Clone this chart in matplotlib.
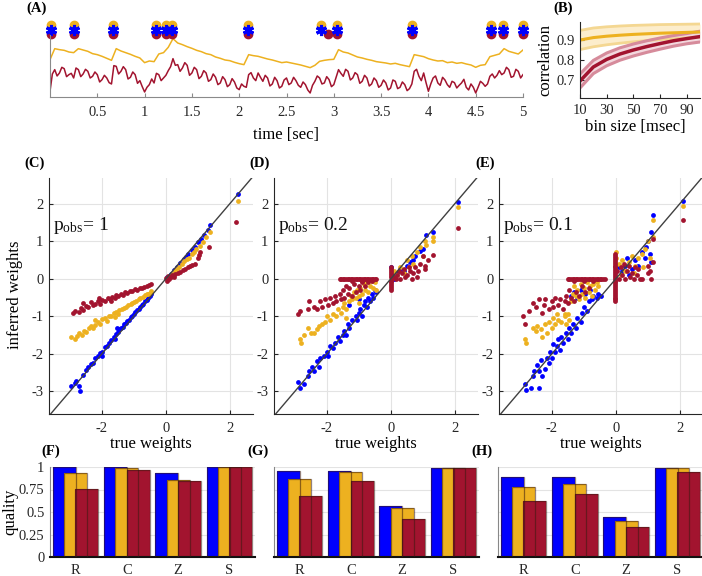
import numpy as np
import matplotlib
matplotlib.use("Agg")
import matplotlib.pyplot as plt

plt.rcParams["font.family"] = ["Liberation Serif", "DejaVu Serif"]
plt.rcParams["mathtext.fontset"] = "custom"
plt.rcParams["mathtext.rm"] = "Liberation Serif"
plt.rcParams["mathtext.it"] = "Liberation Serif:italic"
plt.rcParams["axes.unicode_minus"] = False

BLUE = "#0000ff"
YELLOW = "#edb120"
RED = "#a2142f"
AXC = "#262626"
GRID = "#e3e3e3"

# ---- (A) traces (arbitrary units); yellow every 0.05 s, red every 0.025 s
trace_yellow = [
    113, 146, 143, 141, 136, 134, 146, 142, 138, 131, 128, 123, 117, 111, 146, 139, 134, 129, 123, 118,
    104, 109, 107, 130, 134, 150, 176, 163, 158, 152, 147, 141, 137, 131, 128, 121, 117, 112, 110, 105,
    101, 98, 128, 125, 123, 119, 115, 112, 108, 104, 106, 103, 100, 97, 93, 89, 96, 108, 111, 113,
    114, 143, 136, 133, 127, 121, 118, 114, 111, 107, 105, 103, 100, 102, 98, 95, 92, 128, 125, 122,
    116, 112, 109, 110, 104, 106, 102, 104, 100, 97, 90, 96, 98, 122, 126, 130, 146, 138, 134, 130, 142,
]
trace_red = [
    18, 70, 83, 64, 73, 90, 86, 62, 68, 72, 58, 88, 83, 62, 70, 84, 78, 58, 63, 76,
    68, 46, 53, 66, 58, 44, 40, 95, 93, 70, 78, 92, 83, 55, 60, 76, 68, 42, 50, 32,
    16, 30, 38, 55, 43, 72, 68, 50, 58, 66, 80, 92, 116, 96, 98, 78, 88, 104, 96, 66,
    73, 90, 83, 56, 63, 80, 73, 48, 53, 70, 60, 38, 43, 62, 53, 32, 38, 56, 46, 28,
    23, 40, 33, 30, 68, 74, 58, 50, 73, 60, 48, 66, 58, 34, 40, 60, 50, 28, 33, 52,
    58, 38, 43, 60, 50, 36, 30, 46, 38, 22, 13, 36, 48, 64, 58, 40, 43, 62, 53, 32,
    38, 60, 83, 72, 63, 84, 78, 52, 58, 74, 68, 42, 48, 66, 58, 34, 40, 58, 50, 30,
    36, 52, 43, 22, 28, 52, 48, 26, 30, 46, 38, 20, 26, 40, 78, 84, 63, 50, 73, 44,
    18, 40, 58, 64, 43, 36, 60, 52, 38, 30, 48, 44, 28, 36, 43, 54, 30, 22, 40, 30,
    13, 30, 48, 42, 33, 40, 63, 70, 58, 66, 80, 68, 73, 90, 83, 60, 63, 84, 78, 58,
    68,
]
events_yellow = [0.01, 0.25, 0.67, 1.12, 1.23, 1.29, 2.09, 2.86, 3.03, 3.83, 4.66, 4.79, 5.0]
events_blue = [0.01, 0.25, 0.67, 1.12, 1.23, 1.29, 2.09, 2.86, 3.03, 3.83, 4.66, 4.79, 5.0]
events_red = [0.01, 0.25, 0.67, 1.12, 1.23, 1.29, 2.09, 2.94, 3.03, 3.83, 4.66, 4.79, 5.0]

# ---- (B) correlation vs bin size
bin_size = [10, 20, 30, 40, 50, 60, 70, 80, 90, 100]
corr_yellow = [0.900, 0.912, 0.919, 0.924, 0.928, 0.931, 0.934, 0.936, 0.938, 0.940]
corr_yellow_hi = [0.948, 0.960, 0.966, 0.970, 0.973, 0.975, 0.977, 0.978, 0.979, 0.980]
corr_yellow_lo = [0.852, 0.866, 0.876, 0.884, 0.891, 0.897, 0.902, 0.906, 0.911, 0.915]
corr_red = [0.695, 0.765, 0.803, 0.830, 0.850, 0.867, 0.882, 0.896, 0.907, 0.917]
corr_red_hi = [0.730, 0.798, 0.835, 0.861, 0.880, 0.896, 0.910, 0.922, 0.932, 0.944]
corr_red_lo = [0.660, 0.732, 0.771, 0.799, 0.820, 0.838, 0.854, 0.869, 0.881, 0.890]

# ---- (C) p_obs = 1 : (true, inferred)
c_blue = [(-2.95, -2.85), (-2.85, -2.78), (-2.8, -2.72), (-2.72, -2.85), (-2.68, -3.0), (-2.6, -2.55),
          (-2.5, -2.42), (-2.42, -2.35), (-2.35, -2.28), (-2.28, -2.25), (-2.2, -2.12), (-2.12, -2.05),
          (-2.05, -1.98), (-1.98, -1.95), (-1.9, -1.82), (-1.85, -1.78), (-1.78, -1.7), (-1.7, -1.62),
          (-1.62, -1.55), (-1.55, -1.48), (-1.5, -1.42), (-1.45, -1.35), (-1.4, -1.32), (-1.35, -1.28),
          (-1.3, -1.2), (-1.25, -1.18), (-1.2, -1.12), (-1.15, -1.1), (-1.1, -1.02), (-1.05, -0.98),
          (-1.0, -0.94), (-0.95, -0.88), (-0.9, -0.84), (-0.85, -0.8), (-0.8, -0.76), (-0.75, -0.7),
          (-0.7, -0.66), (-0.65, -0.6), (-0.6, -0.56), (-0.55, -0.5), (-0.5, -0.46), (-0.45, -0.42),
          (-1.52, -1.32), (-1.6, -1.6), (-2.0, -2.05), (0.05, 0.05), (0.15, 0.13), (0.25, 0.22),
          (0.35, 0.32), (0.45, 0.42), (0.55, 0.52), (0.62, 0.58), (0.7, 0.66), (0.8, 0.76), (0.9, 0.85),
          (1.0, 0.98), (1.1, 1.05), (1.2, 1.15), (1.3, 1.3), (1.38, 1.42), (2.25, 2.25)]
c_yellow = [(-2.95, -1.55), (-2.85, -1.6), (-2.78, -1.52), (-2.7, -1.45), (-2.62, -1.5), (-2.55, -1.38),
            (-2.48, -1.42), (-2.4, -1.32), (-2.35, -1.25), (-2.28, -1.3), (-2.2, -1.22), (-2.12, -1.15),
            (-2.05, -1.2), (-1.98, -1.08), (-1.9, -1.05), (-1.85, -1.12), (-1.78, -0.98), (-1.7, -1.0),
            (-1.62, -0.92), (-1.55, -0.88), (-1.5, -0.95), (-1.45, -0.84), (-1.38, -0.8), (-1.3, -0.78),
            (-1.25, -0.74), (-1.18, -0.7), (-1.1, -0.68), (-1.05, -0.64), (-1.0, -0.62), (-0.92, -0.58),
            (-0.85, -0.55), (-0.8, -0.52), (-0.72, -0.48), (-0.65, -0.44), (-0.6, -0.42), (-0.55, -0.4),
            (-0.5, -0.37), (-0.45, -0.34), (-2.2, -1.1), (-1.6, -1.02), (0.05, 0.02), (0.12, 0.06),
            (0.2, 0.12), (0.28, 0.2), (0.35, 0.26), (0.42, 0.32), (0.5, 0.4), (0.58, 0.46), (0.65, 0.52),
            (0.72, 0.56), (0.8, 0.65), (0.88, 0.72), (0.95, 0.8), (1.05, 0.88), (1.15, 0.98), (1.25, 1.1),
            (1.38, 1.25), (2.25, 2.08)]
c_red = [(-2.9, -0.9), (-2.85, -0.85), (-2.72, -0.88), (-2.65, -0.78), (-2.58, -0.82), (-2.5, -0.72),
         (-2.42, -0.76), (-2.35, -0.62), (-2.28, -0.7), (-2.2, -0.66), (-2.12, -0.6), (-2.05, -0.68),
         (-1.98, -0.56), (-1.9, -0.6), (-1.82, -0.52), (-1.75, -0.55), (-1.68, -0.48), (-1.6, -0.52),
         (-1.55, -0.44), (-1.48, -0.47), (-1.4, -0.4), (-1.35, -0.43), (-1.28, -0.36), (-1.2, -0.38),
         (-1.12, -0.32), (-1.05, -0.34), (-0.98, -0.28), (-0.9, -0.3), (-0.82, -0.24), (-0.75, -0.26),
         (-0.68, -0.22), (-0.6, -0.2), (-0.52, -0.17), (-0.45, -0.15), (-2.6, -0.65), (-2.1, -0.5),
         (-1.7, -0.6), (0.0, 0.02), (0.02, -0.05), (0.06, 0.08), (0.1, 0.0), (0.15, 0.05), (0.2, 0.1),
         (0.25, 0.04), (0.3, 0.12), (0.38, 0.15), (0.45, 0.18), (0.52, 0.22), (0.6, 0.25), (0.68, 0.3),
         (0.75, 0.33), (0.82, 0.37), (0.9, 0.4), (1.0, 0.55), (1.02, 0.62), (1.08, 0.7), (1.35, 0.85),
         (2.2, 1.52)]

# ---- (D) p_obs = 0.2
d_blue = [(-2.9, -2.75), (-2.85, -2.9), (-2.7, -2.8), (-2.6, -2.6), (-2.55, -2.45), (-2.45, -2.35),
          (-2.4, -2.45), (-2.3, -2.2), (-2.25, -2.35), (-2.2, -2.1), (-2.1, -2.05), (-2.0, -1.95),
          (-1.95, -2.05), (-1.9, -1.8), (-1.8, -1.85), (-1.75, -1.7), (-1.65, -1.55), (-1.6, -1.65),
          (-1.5, -1.5), (-1.45, -1.4), (-1.4, -1.5), (-1.35, -1.2), (-1.3, -1.3), (-1.2, -1.1),
          (-1.1, -1.0), (-1.05, -1.1), (-1.0, -0.9), (-0.95, -0.8), (-0.9, -1.0), (-0.85, -0.7),
          (-0.8, -0.6), (-0.75, -0.75), (-0.7, -0.5), (-0.65, -0.6), (-0.6, -0.4), (-0.55, -0.5),
          (-0.5, -0.3), (-0.45, -0.35), (-1.3, -0.7), (-1.0, -0.55), (0.0, 0.3), (0.05, 0.1),
          (0.1, 0.0), (0.2, 0.15), (0.3, 0.25), (0.4, 0.2), (0.5, 0.35), (0.6, 0.45), (0.7, 0.5),
          (0.75, 0.6), (0.9, 0.75), (1.0, 0.8), (1.1, 1.15), (1.3, 1.25), (2.1, 2.05)]
d_yellow = [(-2.85, -1.6), (-2.8, -1.7), (-2.7, -1.5), (-2.6, -1.3), (-2.5, -1.45), (-2.4, -1.45),
            (-2.3, -1.35), (-2.25, -1.25), (-2.15, -1.2), (-2.05, -1.15), (-2.0, -1.0), (-1.9, -1.1),
            (-1.8, -0.95), (-1.7, -1.0), (-1.65, -0.8), (-1.55, -0.9), (-1.5, -0.75), (-1.45, -0.65),
            (-1.4, -0.8), (-1.3, -0.6), (-1.25, -0.45), (-1.2, -0.55), (-1.15, -0.35), (-1.1, -0.5),
            (-1.05, -0.3), (-1.0, -0.45), (-0.95, -0.25), (-0.9, -0.4), (-0.85, -0.15), (-0.8, -0.3),
            (-0.75, -0.1), (-0.7, -0.35), (-0.65, -0.2), (-0.6, -0.05), (-0.55, -0.25), (-0.5, -0.1),
            (-0.45, -0.3), (-1.4, -1.05), (-1.0, -0.65), (0.05, 0.05), (0.1, 0.2), (0.2, 0.1),
            (0.3, 0.3), (0.4, 0.15), (0.5, 0.5), (0.55, 0.3), (0.65, 0.6), (0.7, 0.4), (0.8, 0.7),
            (0.9, 0.85), (1.0, 0.6), (1.05, 1.0), (1.1, 0.9), (1.3, 1.1), (1.3, 1.0), (2.1, 1.9)]
d_red = [(-2.9, -0.95), (-2.85, -0.85), (-2.6, -0.8), (-2.55, -0.6), (-2.4, -0.75), (-2.3, -0.8),
         (-2.2, -0.6), (-2.15, -0.75), (-2.05, -0.55), (-1.95, -0.7), (-1.9, -0.5), (-1.8, -0.65),
         (-1.75, -0.45), (-1.7, -0.6), (-1.6, -0.4), (-1.55, -0.55), (-1.5, -0.3), (-1.45, -0.5),
         (-1.4, -0.2), (-1.35, -0.4), (-1.3, -0.25), (-1.2, -0.45), (-1.15, -0.15), (-1.1, -0.35),
         (-1.0, -0.2), (-0.95, -0.3), (-0.9, -0.1), (-0.8, -0.2), (-0.7, -0.1),
         (-1.6, 0.0), (-1.55, 0.0), (-1.5, 0.0), (-1.45, 0.0), (-1.4, 0.0), (-1.35, 0.0), (-1.3, 0.0),
         (-1.25, 0.0), (-1.2, 0.0), (-1.15, 0.0), (-1.1, 0.0), (-1.05, 0.0), (-1.0, 0.0), (-0.95, 0.0),
         (-0.9, 0.0), (-0.85, 0.0), (-0.8, 0.0), (-0.75, 0.0), (-0.7, 0.0), (-0.65, 0.0), (-0.6, 0.0),
         (-0.55, 0.0), (-0.5, 0.0), (-0.45, 0.0), (-1.2, -0.05), (-0.9, -0.05), (-0.6, -0.05),
         (0.0, -0.3), (0.0, -0.25), (0.0, -0.2), (0.0, -0.15), (0.0, -0.1), (0.0, -0.05), (0.0, 0.05),
         (0.0, 0.1), (0.0, 0.15), (0.0, 0.2), (0.0, 0.25), (0.0, 0.3), (0.05, 0.0), (0.1, 0.05),
         (0.15, 0.0), (0.2, 0.1), (0.25, 0.2), (0.3, 0.0), (0.35, 0.15), (0.4, 0.25), (0.45, 0.05),
         (0.5, 0.1), (0.55, 0.3), (0.6, 0.2), (0.65, 0.0), (0.7, 0.15), (0.75, 0.3), (0.8, 0.05),
         (0.85, 0.2), (0.9, 0.4), (1.0, 0.6), (1.05, 0.35), (1.05, 0.25), (1.15, 0.5), (1.3, 0.62),
         (2.1, 1.35)]

# ---- (E) p_obs = 0.1
e_blue = [(-2.85, -2.8), (-2.8, -2.95), (-2.65, -2.9), (-2.6, -2.6), (-2.55, -2.45), (-2.45, -2.3),
          (-2.4, -2.45), (-2.35, -2.15), (-2.3, -2.6), (-2.2, -2.4), (-2.15, -2.1), (-2.1, -2.25),
          (-2.05, -1.95), (-2.0, -2.1), (-1.95, -1.75), (-1.9, -1.95), (-1.85, -1.8), (-1.8, -1.6),
          (-1.75, -1.9), (-1.7, -1.55), (-1.65, -1.7), (-1.55, -1.45), (-1.5, -1.6), (-1.45, -1.3),
          (-1.4, -1.45), (-1.35, -1.2), (-1.25, -1.3), (-1.2, -1.05), (-1.1, -1.15), (-1.05, -0.9),
          (-1.0, -0.75), (-0.9, -0.85), (-0.85, -0.6), (-0.75, -0.55), (-0.7, -0.45), (-0.6, -0.5),
          (-0.55, -0.4), (-0.45, -0.45), (-1.4, -0.45), (-1.3, -0.35), (-1.2, -0.5), (-1.1, -0.3),
          (-0.95, -0.4), (-0.8, -0.3), (-2.4, -2.9), (0.1, 0.3), (0.2, 0.2), (0.3, 0.35), (0.4, 0.1),
          (0.5, 0.25), (0.6, 0.5), (0.7, 0.35), (0.8, 0.7), (0.9, 0.55), (0.95, 0.85), (1.0, 1.0),
          (1.05, 0.65), (1.1, 0.45), (1.1, 1.25), (1.15, 1.7), (0.35, 0.55), (2.1, 2.07)]
e_yellow = [(-2.85, -1.6), (-2.8, -1.7), (-2.6, -1.3), (-2.5, -1.4), (-2.45, -1.25), (-2.35, -1.35),
            (-2.3, -1.55), (-2.2, -1.2), (-2.15, -1.45), (-2.1, -1.15), (-2.0, -1.3), (-1.95, -1.05),
            (-1.9, -1.2), (-1.85, -0.95), (-1.8, -1.1), (-1.7, -1.15), (-1.6, -1.0), (-1.55, -1.2),
            (-1.5, -0.95), (-1.45, -1.1), (-1.4, -0.6), (-1.35, -0.4), (-1.3, -0.2), (-1.25, -0.45),
            (-1.2, -0.3), (-1.15, -0.55), (-1.1, -0.15), (-1.05, -0.4), (-1.0, -0.25), (-0.95, -0.5),
            (-0.9, -0.1), (-0.85, -0.35), (-0.8, -0.2), (-0.75, -0.45), (-0.7, -0.15), (-0.65, -0.3),
            (-0.6, -0.1), (-0.55, -0.2), (-1.6, -0.95), (0.0, 0.7), (0.0, 0.55), (0.1, 0.4), (0.15, 0.1),
            (0.2, 0.5), (0.3, 0.2), (0.4, 0.45), (0.5, 0.6), (0.55, 0.15), (0.6, 0.35), (0.7, 0.55),
            (0.8, 0.65), (0.85, 0.3), (0.9, 0.8), (1.0, 1.0), (1.05, 0.55), (1.15, 1.1), (1.15, 1.55),
            (2.1, 1.93)]
e_red = [(-2.9, -1.0), (-2.85, -1.2), (-2.7, -0.85), (-2.6, -0.65), (-2.5, -0.75), (-2.4, -0.55),
         (-2.3, -0.9), (-2.25, -0.7), (-2.2, -0.55), (-2.1, -0.8), (-2.0, -0.6), (-1.95, -0.75),
         (-1.9, -0.5), (-1.8, -0.7), (-1.75, -0.55), (-1.65, -0.8), (-1.6, -0.6), (-1.55, -0.45),
         (-1.5, -0.65), (-1.45, -0.3), (-1.4, -0.5), (-1.3, -0.6), (-1.25, -0.35), (-1.15, -0.45),
         (-1.05, -0.2), (-0.95, -0.35), (-0.85, -0.25),
         (-1.5, 0.0), (-1.45, 0.0), (-1.4, 0.0), (-1.35, 0.0), (-1.3, 0.0), (-1.25, 0.0), (-1.2, 0.0),
         (-1.15, 0.0), (-1.1, 0.0), (-1.05, 0.0), (-1.0, 0.0), (-0.95, 0.0), (-0.9, 0.0), (-0.85, 0.0),
         (-0.8, 0.0), (-0.75, 0.0), (-0.7, 0.0), (-0.65, 0.0), (-0.6, 0.0), (-0.55, 0.0), (-0.5, 0.0),
         (-0.45, 0.0), (-0.4, 0.0), (-0.35, 0.0), (-1.3, -0.05), (-1.0, -0.05), (-0.7, -0.05),
         (-0.02, -0.6), (-0.02, -0.55), (-0.02, -0.5), (-0.02, -0.45), (-0.02, -0.4), (-0.02, -0.35),
         (-0.02, -0.3), (-0.02, -0.25), (-0.02, -0.2), (-0.02, -0.15), (-0.02, -0.1), (-0.02, -0.05),
         (-0.02, 0.0), (-0.02, 0.05), (-0.02, 0.1), (-0.02, 0.15), (-0.02, 0.2), (-0.02, 0.25),
         (-0.02, 0.3), (-0.02, 0.35), (-0.02, 0.4), (-0.02, 0.45), (-0.02, 0.5), (-0.02, 0.55),
         (-0.02, 0.6), (-0.02, 0.65), (0.05, 0.2), (0.1, 0.0), (0.15, 0.3), (0.2, 0.1), (0.25, 0.4),
         (0.3, 0.0), (0.35, 0.2), (0.4, 0.35), (0.45, 0.05), (0.5, 0.15), (0.55, 0.0), (0.6, 0.3),
         (0.65, 0.1), (0.7, 0.25), (0.75, 0.0), (0.8, 0.0), (1.0, 0.35), (1.05, 0.2), (1.1, 0.0),
         (1.15, 0.45), (1.15, 1.05), (1.0, 0.15), (2.1, 1.55)]

# ---- (F)-(H) quality
quality_labels = ["R", "C", "Z", "S"]
f_blue = [1.0, 1.0, 0.935, 1.0]
f_yellow = [0.93, 0.99, 0.855, 1.0]
f_red = [0.755, 0.97, 0.85, 1.0]
g_blue = [0.96, 0.96, 0.565, 0.99]
g_yellow = [0.865, 0.94, 0.55, 0.99]
g_red = [0.675, 0.85, 0.425, 0.985]
h_blue = [0.89, 0.89, 0.44, 0.99]
h_yellow = [0.78, 0.815, 0.395, 0.985]
h_red = [0.62, 0.705, 0.335, 0.94]

W, H = 702, 576
fig = plt.figure(figsize=(W / 100, H / 100), dpi=100)


def add_ax(l, t, r, b):
    return fig.add_axes([l / W, 1 - b / H, (r - l) / W, (b - t) / H])


def ftext(x, y, s, **kw):
    fig.text(x / W, 1 - y / H, s, ha="center", va="center", **kw)


def style(ax, color=AXC):
    for sp in ("top", "right"):
        ax.spines[sp].set_visible(False)
    for sp in ("left", "bottom"):
        ax.spines[sp].set_color(color)
        ax.spines[sp].set_linewidth(0.8)
    ax.tick_params(direction="in", length=3, width=0.8, color=color,
                   labelcolor=AXC, labelsize=10.5, pad=4)


# (A)
ax = add_ax(50, 35, 523, 97.3)
ax.plot(np.linspace(0, 5, len(trace_yellow)), trace_yellow, color=YELLOW, lw=1.1)
ax.plot(np.linspace(0, 5, len(trace_red)), trace_red, color=RED, lw=1.1)
ax.set_xlim(0, 5)
ax.set_ylim(0, 187)
tr = ax.get_xaxis_transform()
ax.plot(events_yellow, np.full(len(events_yellow), 1.16), "o", color=YELLOW, ms=6,
        transform=tr, clip_on=False)
ax.plot(events_red, np.full(len(events_red), 1.02), "o", color=RED, ms=6,
        transform=tr, clip_on=False)
ax.plot(events_blue, np.full(len(events_blue), 1.08), ls="none", marker=(6, 2, 0), color=BLUE,
        ms=8, mew=2.2, transform=tr, clip_on=False)
style(ax, "#8a8a8a")
ax.set_yticks([])
ax.set_xticks([0.5, 1, 1.5, 2, 2.5, 3, 3.5, 4, 4.5, 5])
ax.set_xticklabels(["0.5", "1", "1.5", "2", "2.5", "3", "3.5", "4", "4.5", "5"])
ax.tick_params(axis="x", pad=6)
ftext(286, 135, "time [sec]", fontsize=12)
ftext(37, 8, "(A)", fontsize=10.5, fontweight="bold")

# (B)
ax = add_ax(580, 22, 700, 98)
ax.fill_between(bin_size, corr_yellow_lo, corr_yellow_hi, color="#fcedcc", lw=0)
ax.plot(bin_size, corr_yellow_hi, color="#f4d792", lw=2)
ax.plot(bin_size, corr_yellow_lo, color="#f4d792", lw=2)
ax.fill_between(bin_size, corr_red_lo, corr_red_hi, color="#f3d8de", lw=0)
ax.plot(bin_size, corr_red_hi, color="#d68b9b", lw=2.2)
ax.plot(bin_size, corr_red_lo, color="#d68b9b", lw=2.2)
ax.plot(bin_size, corr_yellow, color=YELLOW, lw=2.2)
ax.plot(bin_size, corr_red, color=RED, lw=2.5)
ax.set_xlim(10, 100)
ax.set_ylim(0.61, 0.99)
ax.set_xticks([10, 30, 50, 70, 90])
ax.set_yticks([0.7, 0.8, 0.9])
style(ax)
ftext(635, 127, "bin size [msec]", fontsize=12)
ftext(545, 60, "correlation", fontsize=12, rotation=90)
ftext(563, 8, "(B)", fontsize=10.5, fontweight="bold")

# (C)-(E)
scatter_panels = [
    (49, "(C)", r"$\mathrm{p_{obs}}$= 1", c_blue, c_yellow, c_red),
    (274, "(D)", r"$\mathrm{p_{obs}}$= 0.2", d_blue, d_yellow, d_red),
    (499, "(E)", r"$\mathrm{p_{obs}}$= 0.1", e_blue, e_yellow, e_red),
]
for l, tag, ptxt, sb, sy, sr in scatter_panels:
    ax = add_ax(l, 178, l + 204, 414)
    ax.set_axisbelow(True)
    ax.grid(True, color=GRID, lw=0.8)
    for pts, col in ((sb, BLUE), (sy, YELLOW), (sr, RED)):
        arr = np.array(pts)
        ax.scatter(arr[:, 0], arr[:, 1], s=12, color=col, linewidths=0, zorder=3)
    ax.axline((0, 0), slope=1, color="#404040", lw=1, zorder=4)
    ax.set_xlim(-3.65, 2.72)
    ax.set_ylim(-3.6, 2.68)
    ax.set_xticks([-2, 0, 2])
    ax.set_yticks([-3, -2, -1, 0, 1, 2])
    style(ax)
    ax.tick_params(axis="x", pad=6)
    ax.text(0.02, 0.8, ptxt, transform=ax.transAxes, fontsize=14, color="#111111", va="center")
    ftext(l + 102, 444, "true weights", fontsize=12)
    ftext(l - 14, 163, tag, fontsize=10.5, fontweight="bold")
ftext(15, 295, "inferred weights", fontsize=12, rotation=90)

# (F)-(H)
bar_panels = [
    (50, "(F)", f_blue, f_yellow, f_red, True),
    (274, "(G)", g_blue, g_yellow, g_red, False),
    (498, "(H)", h_blue, h_yellow, h_red, False),
]
xpos = np.arange(1, len(quality_labels) + 1)
for l, tag, vb, vy, vr, show_y in bar_panels:
    ax = add_ax(l, 467, l + 205, 557)
    ax.set_axisbelow(True)
    ax.grid(True, axis="y", color=GRID, lw=0.8)
    for off, vals, col in ((-0.22, vb, BLUE), (0.0, vy, YELLOW), (0.22, vr, RED)):
        ax.bar(xpos + off, vals, width=0.45, color=col, lw=0, zorder=2)
    for off, vals in ((-0.22, vb), (0.0, vy), (0.22, vr)):
        ax.bar(xpos + off, vals, width=0.45, fill=False, edgecolor="#3a1a10", lw=0.9,
               alpha=0.55, zorder=3)
    ax.set_xlim(0.5, 4.5)
    ax.set_ylim(0, 1)
    ax.set_xticks(xpos)
    ax.set_xticklabels(quality_labels)
    ax.set_yticks([0, 0.25, 0.5, 0.75, 1])
    style(ax, "#888888")
    ax.spines["bottom"].set_color("#111111")
    ax.spines["bottom"].set_linewidth(1.5)
    ax.tick_params(axis="x", length=0, pad=5)
    ax.tick_params(axis="y", length=0)
    if show_y:
        ax.set_yticklabels(["0", "0.25", "0.5", "0.75", "1"])
    else:
        ax.set_yticklabels([])
    ftext(l + 1 if show_y else l - 16, 451, tag, fontsize=10.5, fontweight="bold")
ftext(10, 512, "quality", fontsize=12, rotation=90)

fig.savefig("out.png", dpi=100)
